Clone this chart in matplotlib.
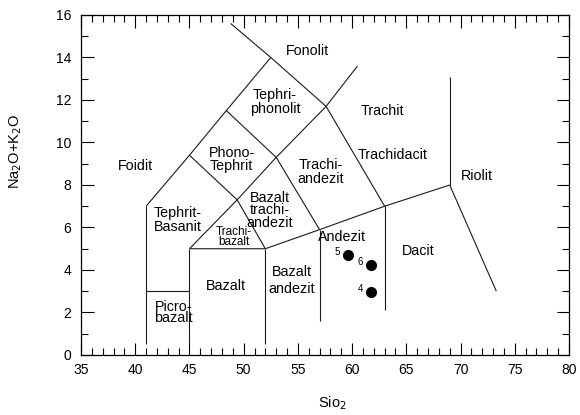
import matplotlib
matplotlib.use("Agg")
import matplotlib.pyplot as plt
from matplotlib.ticker import MultipleLocator

plt.rcParams['font.family'] = ['Liberation Sans', 'DejaVu Sans']

# TAS field boundaries (SiO2, Na2O+K2O) polylines
bnd_picro_top = ([41, 45], [3, 3])
bnd_v41 = ([41, 41], [0.5, 7])
bnd_v45 = ([45, 45], [0.5, 5])
bnd_v52 = ([52, 52], [0.5, 5])
bnd_v57 = ([57, 57], [1.6, 5.9])
bnd_v63 = ([63, 63], [2.1, 7])
bnd_base = ([45, 52, 57, 63, 69], [5, 5, 5.9, 7, 8])
bnd_dacit_riolit = ([69, 73.3], [8, 3])
bnd_v69 = ([69, 69], [8, 13.1])
bnd_left_diag = ([41, 45, 48.4, 52.5], [7, 9.4, 11.5, 14])
bnd_fonolit_top = ([52.5, 48.8], [14, 15.6])
bnd_trachyte_left = ([52.5, 57.6, 63], [14, 11.7, 7])
bnd_fonolit_trachit = ([57.6, 60.5], [11.7, 13.6])
bnd_trachybasalt = ([45, 49.4, 52], [5, 7.3, 5])
bnd_mid1 = ([45, 49.4, 53, 57.6], [9.4, 7.3, 9.3, 11.7])
bnd_mid2 = ([48.4, 53, 57], [11.5, 9.3, 5.9])

boundaries = [bnd_picro_top, bnd_v41, bnd_v45, bnd_v52, bnd_v57, bnd_v63,
              bnd_base, bnd_dacit_riolit, bnd_v69, bnd_left_diag,
              bnd_fonolit_top, bnd_trachyte_left, bnd_fonolit_trachit,
              bnd_trachybasalt, bnd_mid1, bnd_mid2]

# Field names and label positions (data coordinates)
field_names = ["Fonolit", "Tephri-\nphonolit", "Phono-\nTephrit", "Foidit",
               "Tephrit-\nBasanit", "Bazalt\ntrachi-\nandezit", "Trachi-\nandezit",
               "Trachit", "Trachidacit", "Riolit", "Andezit", "Dacit",
               "Bazalt\nandezit", "Bazalt", "Picro-\nbazalt"]
field_x = [55.9, 52.9, 48.9, 40.0, 43.9, 52.4, 57.1, 62.8, 63.7, 71.5, 59.1, 66.1, 54.4, 48.4, 43.5]
field_y = [14.3, 11.9, 9.2, 8.9, 6.35, 6.8, 8.6, 11.5, 9.4, 8.4, 5.55, 4.9, 3.5, 3.25, 2.0]
field_spacing = [1.0, 1.0, 0.85, 1.0, 0.95, 0.85, 1.0, 1.0, 1.0, 1.0, 1.0, 1.0, 1.25, 1.0, 0.8]

small_name = "Trachi-\nbazalt"
small_x, small_y = 49.1, 5.55

# Samples
sample_ids = ["5", "6", "4"]
sample_sio2 = [59.6, 61.75, 61.75]
sample_alk = [4.7, 4.23, 2.96]

fig = plt.figure(figsize=(5.8, 4.15), dpi=100)
ax = fig.add_axes([0.1397, 0.1446, 0.8413, 0.8193])

for xs, ys in boundaries:
    ax.plot(xs, ys, color='#1a1a1a', lw=0.8, solid_capstyle='butt')

for name, x, y, ls in zip(field_names, field_x, field_y, field_spacing):
    ax.text(x, y, name, ha='center', va='center', fontsize=10.3, linespacing=ls)
ax.text(small_x, small_y, small_name, ha='center', va='center', fontsize=8.5, linespacing=0.8)

ax.plot(sample_sio2, sample_alk, 'o', color='black', markersize=7)
for sid, x, y in zip(sample_ids, sample_sio2, sample_alk):
    ax.text(x - 0.7, y + 0.15, sid, ha='right', va='center', fontsize=7)

ax.set_xlim(35, 80)
ax.set_ylim(0, 16)
ax.xaxis.set_major_locator(MultipleLocator(5))
ax.xaxis.set_minor_locator(MultipleLocator(1))
ax.yaxis.set_major_locator(MultipleLocator(2))
ax.yaxis.set_minor_locator(MultipleLocator(1))
ax.tick_params(which='both', direction='in', top=True, right=True, labelsize=10, width=0.8)
ax.tick_params(which='major', length=9)
ax.tick_params(which='minor', length=5)
ax.tick_params(axis='x', which='major', pad=6)
ax.tick_params(axis='y', which='major', pad=7)
for s in ax.spines.values():
    s.set_linewidth(0.9)

ax.set_xlabel("Sio$_2$", fontsize=10.5)
ax.xaxis.set_label_coords(0.516, -0.115)
ax.set_ylabel("Na$_2$O+K$_2$O", fontsize=10.5)
ax.yaxis.set_label_coords(-0.117, 0.6)

fig.savefig("out.png", dpi=100)
